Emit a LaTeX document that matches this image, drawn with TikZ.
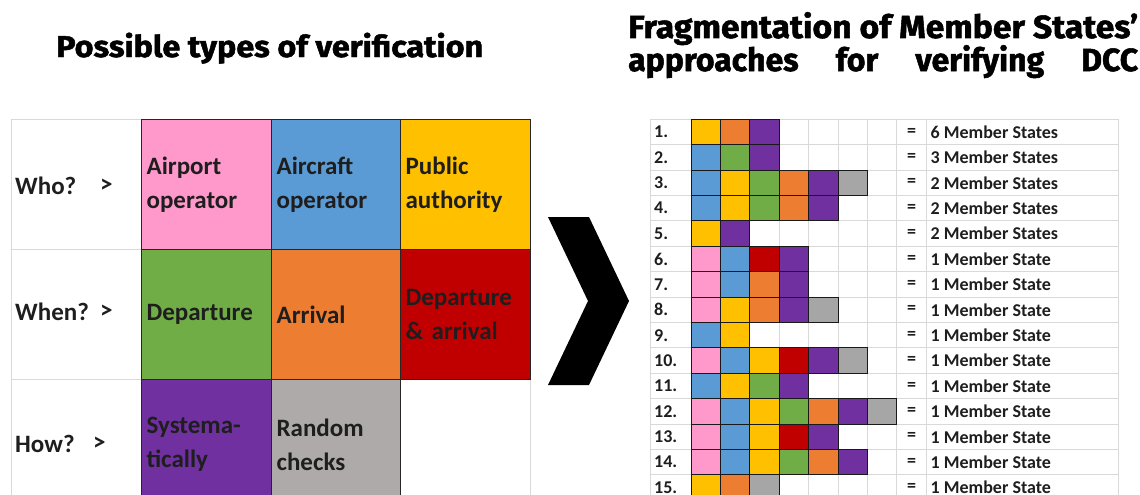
\documentclass[tikz,border=0pt]{standalone}
\usepackage{fontspec}
\usepackage{graphicx}
\setmainfont{Carlito}
\newfontfamily\headfont{Fira Sans}[BoldFeatures={FakeBold=1.6}]

% category colours
\definecolor{cpink}{HTML}{FF99CC}
\definecolor{cblue}{HTML}{5B9BD5}
\definecolor{cyellow}{HTML}{FFC000}
\definecolor{cgreen}{HTML}{70AD47}
\definecolor{corange}{HTML}{ED7D31}
\definecolor{cred}{HTML}{C00000}
\definecolor{cpurple}{HTML}{7030A0}
\definecolor{cgrey}{HTML}{AEAAAA}
\definecolor{cgreyb}{HTML}{A6A6A6}
\definecolor{gridline}{HTML}{D9D9D9}
\definecolor{ink}{HTML}{1E1E1E}

% one-letter codes for the combination grid
\colorlet{sK}{cpink}
\colorlet{sB}{cblue}
\colorlet{sY}{cyellow}
\colorlet{sG}{cgreen}
\colorlet{sO}{corange}
\colorlet{sR}{cred}
\colorlet{sP}{cpurple}
\colorlet{sA}{cgreyb}

\tikzset{
  cellbox/.style={draw=black!85, line width=1.2pt, anchor=north west,
    inner xsep=5pt, inner ysep=0pt, minimum height=130pt, align=left,
    text=ink, font=\fontsize{25}{34}\selectfont\bfseries},
  rowlabel/.style={anchor=west, inner sep=0pt, text=ink,
    font=\fontsize{25}{30}\selectfont\bfseries},
  gridrule/.style={draw=gridline, line width=1pt},
  combo/.style={draw=black!90, line width=0.9pt, inner sep=0pt,
    minimum width=29.4pt, minimum height=25.4pt},
  tabtext/.style={inner sep=0pt, text=ink,
    font=\fontsize{18}{20}\selectfont\bfseries},
  headline/.style={anchor=base west, inner sep=0pt,
    font=\headfont\bfseries}
}

\begin{document}
\begin{tikzpicture}[x=1pt,y=-1pt]
\useasboundingbox (0,0) rectangle (1140,495);
\clip (0,0) rectangle (1140,495);
\fill[white] (0,0) rectangle (1140,495);

% ---------- headings ----------
\node[headline] (titleL) at (56,57)
  {\resizebox{427pt}{\height}{\fontsize{30}{30}\selectfont Possible types of verification}};
\node[headline] (titleR1) at (628,38)
  {\resizebox{510pt}{\height}{\fontsize{32}{32}\selectfont Fragmentation of Member States’}};
\node[headline] (titleR2) at (628,71)
  {\fontsize{32}{32}\selectfont\makebox[510pt][s]{approaches\hfill for\hfill verifying\hfill DCC}};

% ---------- left table: types of verification ----------
\draw[gridrule] (11,119) rectangle (530,509);
\draw[gridrule] (11,249) -- (141,249);
\draw[gridrule] (11,379) -- (141,379);

\node[rowlabel] (who)   at (15,186) {Who?};
\node[rowlabel] (whoG)  at (100,186) {>};
\node[rowlabel] (when)  at (15,312) {When?};
\node[rowlabel] (whenG) at (100,312) {>};
\node[rowlabel] (how)   at (15,444) {How?};
\node[rowlabel] (howG)  at (93,444) {>};

\node[cellbox, fill=cpink,   text width=120pt] (airport)  at (141,119) {Airport\\operator};
\node[cellbox, fill=cblue,   text width=119pt] (aircraft) at (271,119) {Aircraft\\operator};
\node[cellbox, fill=cyellow, text width=120pt] (public)   at (400,119) {Public\\authority};
\node[cellbox, fill=cgreen,  text width=120pt] (dep)      at (141,249) {Departure};
\node[cellbox, fill=corange, text width=119pt] (arr)      at (271,249) {Arrival};
\node[cellbox, fill=cred,    text width=120pt] (deparr)   at (400,249) {Departure\\\&~arrival};
\node[cellbox, fill=cpurple, text width=120pt] (syst)     at (141,379) {Systema-\\tically};
\node[cellbox, fill=cgrey,   text width=119pt] (random)   at (271,379) {Random\\checks};

% ---------- chevron ----------
\fill[black] (548,217) -- (589,217) -- (629,301) -- (589,385)
  -- (548,385) -- (588,301) -- cycle;

% ---------- right table: combinations used ----------
\foreach \i in {0,...,15}
  \draw[gridrule] (650,{119.3+\i*25.4}) -- (1118,{119.3+\i*25.4});
\foreach \xx in {650,691,720.4,749.8,779.2,808.6,838,867.4,896.8,926.7,1118}
  \draw[gridrule] (\xx,119.3) -- (\xx,500);

\foreach \r/\cols/\txt in {
   1/{Y,O,P}/6 Member States,
   2/{B,G,P}/3 Member States,
   3/{B,Y,G,O,P,A}/2 Member States,
   4/{B,Y,G,O,P}/2 Member States,
   5/{Y,P}/2 Member States,
   6/{K,B,R,P}/1 Member State,
   7/{K,B,O,P}/1 Member State,
   8/{K,Y,O,P,A}/1 Member State,
   9/{B,Y}/1 Member State,
  10/{K,B,Y,R,P,A}/1 Member State,
  11/{B,Y,G,P}/1 Member State,
  12/{K,B,Y,G,O,P,A}/1 Member State,
  13/{K,B,Y,R,P}/1 Member State,
  14/{K,B,Y,G,O,P}/1 Member State,
  15/{Y,O,A}/1 Member State}{
  \pgfmathsetmacro\yc{119.3+(\r-0.5)*25.4}
  \node[tabtext, anchor=west] (num\r) at (654,\yc) {\r.};
  \foreach \c [count=\k] in \cols
    \node[combo, fill=s\c] (cell\r-\k) at ({691+(\k-0.5)*29.4},\yc) {};
  \node[tabtext] (eq\r) at (911.7,\yc) {=};
  \node[tabtext, anchor=west] (ms\r) at (930.5,\yc) {\txt};
}
\end{tikzpicture}
\end{document}
